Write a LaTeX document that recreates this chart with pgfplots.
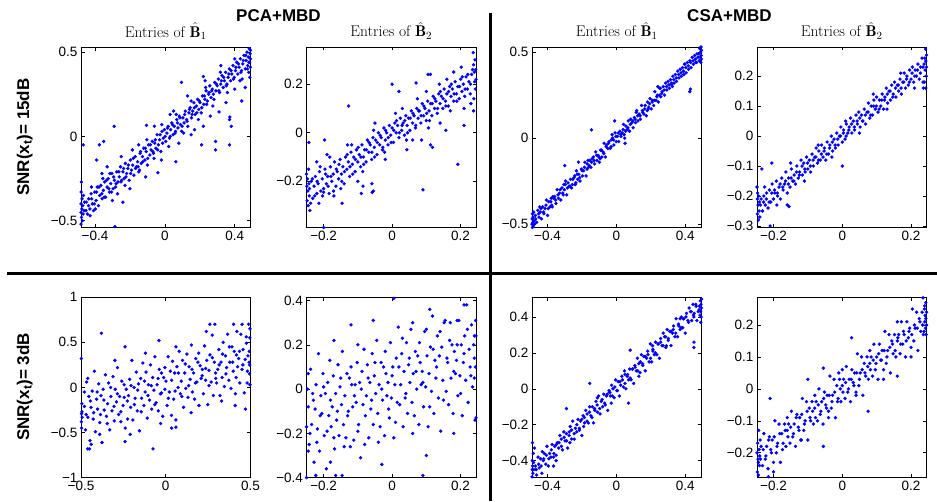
\documentclass[border=0pt]{standalone}
\usepackage{fontspec}
\newfontfamily\hv{Liberation Sans}
\usepackage{pgfplots}
\pgfplotsset{compat=1.18}
\pgfplotsset{
  panel/.style={
    scale only axis, width=169.5pt, height=180.5pt, anchor=south west,
    clip=false, tick align=inside, major tick length=3.5pt,
    axis line style={line width=0.9pt},
    every tick/.style={black, line width=0.6pt},
    tick label style={font=\hv\fontsize{13.5}{15}\selectfont},
    title style={font=\fontsize{15.5}{17}\selectfont, at={(0.5,1)}, anchor=base, yshift=4pt},
  },
  dots/.style={only marks, mark=*, mark size=1.5pt, blue},
}
\begin{document}
\begin{tikzpicture}
\useasboundingbox (0pt,0pt) rectangle (937pt,501pt);

% ---------- row 1: SNR 15dB ----------
\begin{axis}[panel, at={(81pt,273.5pt)}, xmin=-0.48, xmax=0.49, ymin=-0.54, ymax=0.53,
  xtick={-0.4,0,0.4}, xticklabels={−0.4,0,0.4}, ytick={-0.5,0,0.5}, yticklabels={−0.5,0,0.5},
  title={Entries of $\hat{\mathbf{B}}_1$}]
\addplot[dots] coordinates {
(-0.480,-0.52)(-0.480,-0.45)(-0.480,-0.40)(-0.479,-0.33)(-0.478,-0.27)(-0.477,-0.48)(-0.475,-0.43)(-0.474,-0.37)
(-0.472,-0.50)(-0.470,-0.41)(-0.468,-0.46)(-0.466,-0.35)(-0.463,-0.44)(-0.460,-0.39)(-0.467,-0.05)
(-0.450,-0.39)(-0.443,-0.46)(-0.436,-0.37)(-0.429,-0.43)(-0.422,-0.34)(-0.415,-0.40)(-0.408,-0.44)(-0.401,-0.33)
(-0.394,-0.38)(-0.387,-0.30)(-0.380,-0.41)(-0.373,-0.35)(-0.366,-0.29)(-0.359,-0.37)(-0.352,-0.32)(-0.345,-0.27)
(-0.338,-0.36)(-0.331,-0.30)(-0.324,-0.25)(-0.317,-0.33)(-0.310,-0.28)(-0.303,-0.22)(-0.296,-0.31)(-0.289,-0.26)
(-0.282,-0.30)(-0.275,-0.21)(-0.268,-0.27)(-0.261,-0.24)(-0.254,-0.18)(-0.247,-0.26)(-0.240,-0.21)(-0.233,-0.25)
(-0.226,-0.16)(-0.219,-0.22)(-0.212,-0.19)(-0.205,-0.26)(-0.198,-0.14)(-0.191,-0.20)(-0.184,-0.17)(-0.177,-0.23)
(-0.170,-0.12)(-0.163,-0.18)(-0.156,-0.15)(-0.149,-0.21)(-0.142,-0.10)(-0.135,-0.16)(-0.128,-0.12)(-0.121,-0.07)
(-0.114,-0.14)(-0.107,-0.09)(-0.100,-0.17)(-0.093,-0.05)(-0.086,-0.11)(-0.079,-0.08)(-0.072,-0.03)(-0.065,-0.10)
(-0.058,-0.04)(-0.051,-0.07)(-0.044,0.01)(-0.037,-0.05)(-0.030,-0.02)(-0.023,-0.09)(-0.016,0.03)(-0.009,-0.01)
(-0.002,0.04)(0.005,-0.03)(0.012,0.02)(0.019,0.06)(0.026,-0.01)(0.033,0.04)(0.040,0.08)(0.047,0.01)
(0.054,0.06)(0.061,0.03)(0.068,0.10)(0.075,0.05)(0.082,0.12)(0.089,0.07)(0.096,0.03)(0.103,0.11)
(0.110,0.08)(0.117,0.15)(0.124,0.10)(0.131,0.06)(0.138,0.14)(0.145,0.17)(0.152,0.11)(0.159,0.15)
(0.166,0.20)(0.173,0.13)(0.180,0.18)(0.187,0.22)(0.194,0.16)(0.201,0.20)(0.208,0.14)(0.215,0.24)
(0.222,0.19)(0.229,0.22)(0.236,0.27)(0.243,0.21)(0.250,0.25)(0.257,0.30)(0.264,0.23)(0.271,0.28)
(0.278,0.25)(0.285,0.32)(0.292,0.27)(0.299,0.30)(0.306,0.34)(0.313,0.26)(0.320,0.31)(0.327,0.36)
(0.334,0.29)(0.341,0.33)(0.348,0.38)(0.355,0.31)(0.362,0.35)(0.369,0.40)(0.376,0.33)(0.383,0.37)
(0.390,0.42)(0.397,0.35)(0.404,0.39)(0.411,0.44)(0.418,0.37)(0.425,0.41)(0.432,0.46)(0.439,0.39)
(0.446,0.43)(0.453,0.48)(0.460,0.40)
(0.465,0.45)(0.470,0.50)(0.474,0.42)(0.478,0.47)(0.480,0.38)(0.483,0.52)(0.485,0.44)(0.486,0.35)
(0.488,0.49)(0.489,0.41)(0.490,0.46)(0.490,0.51)
(0.095,0.32)(0.220,0.355)(0.370,0.10)(0.372,0.115)(0.380,0.06)(0.290,-0.03)(0.290,-0.08)(0.210,-0.05)
(0.370,-0.05)(0.460,0.29)(0.440,0.21)(-0.290,0.06)(-0.375,-0.05)(-0.350,-0.03)(-0.390,-0.14)(-0.240,-0.39)
(-0.286,-0.535)(-0.105,0.065)(-0.040,-0.215)(0.063,-0.15)(0.220,0.06)(0.310,0.145)
(-0.42,-0.30)(-0.36,-0.22)(-0.30,-0.38)(-0.25,-0.12)(-0.20,-0.31)(-0.15,-0.05)(-0.11,-0.24)(-0.06,0.06)
(-0.02,-0.14)(0.03,0.13)(0.08,-0.04)(0.13,0.24)(0.17,0.04)(0.23,0.33)(0.26,0.12)(0.32,0.42)
(0.35,0.20)(0.40,0.28)(0.43,0.33)(-0.33,-0.18)(0.05,0.15)(0.15,0.01)
};
\addplot[dots] coordinates {
(-0.452,-0.44)(-0.437,-0.41)(-0.419,-0.37)(-0.404,-0.40)(-0.391,-0.33)(-0.377,-0.30)(-0.361,-0.34)(-0.347,-0.36)
(-0.333,-0.26)(-0.321,-0.31)(-0.306,-0.33)(-0.293,-0.24)(-0.279,-0.28)(-0.263,-0.21)(-0.251,-0.27)(-0.236,-0.19)
(-0.223,-0.24)(-0.209,-0.17)(-0.196,-0.22)(-0.181,-0.13)(-0.168,-0.19)(-0.153,-0.18)(-0.139,-0.09)(-0.126,-0.15)
(-0.112,-0.07)(-0.098,-0.13)(-0.083,-0.05)(-0.069,-0.09)(-0.055,-0.02)(-0.041,-0.08)(-0.027,0.01)(-0.013,-0.04)
(0.002,0.00)(0.016,0.05)(0.031,0.00)(0.044,0.07)(0.058,0.02)(0.072,0.08)(0.086,0.11)(0.099,0.06)
(0.113,0.13)(0.127,0.09)(0.141,0.16)(0.156,0.13)(0.169,0.17)(0.183,0.14)(0.197,0.21)(0.211,0.17)
(0.226,0.24)(0.239,0.19)(0.253,0.26)(0.268,0.27)(0.281,0.22)(0.295,0.31)(0.309,0.27)(0.323,0.33)
(0.337,0.35)(0.351,0.30)(0.366,0.37)(0.379,0.39)(0.393,0.34)(0.407,0.41)(0.421,0.43)(0.435,0.38)
(0.449,0.45)(0.463,0.48)(0.472,0.40)(0.481,0.44)(-0.428,-0.47)(-0.398,-0.43)(-0.355,-0.25)(-0.315,-0.22)
(-0.271,-0.34)(-0.228,-0.29)(-0.186,-0.08)(-0.145,-0.20)(-0.103,-0.02)(-0.062,-0.13)(-0.018,0.07)(0.022,-0.06)
(0.065,0.13)(0.107,0.02)(0.150,0.21)(0.192,0.10)(0.233,0.29)(0.275,0.18)(0.318,0.38)(0.358,0.26)
(0.400,0.46)(0.442,0.34)
};
\end{axis}

\begin{axis}[panel, at={(306.5pt,273.5pt)}, xmin=-0.25, xmax=0.245, ymin=-0.39, ymax=0.353,
  xtick={-0.2,0,0.2}, xticklabels={−0.2,0,0.2}, ytick={-0.2,0,0.2}, yticklabels={−0.2,0,0.2},
  title={Entries of $\hat{\mathbf{B}}_2$}]
\addplot[dots] coordinates {
(-0.236,-0.20)(-0.232,-0.27)(-0.228,-0.22)(-0.224,-0.18)(-0.220,-0.25)(-0.216,-0.21)(-0.212,-0.16)(-0.208,-0.24)
(-0.204,-0.19)(-0.200,-0.23)(-0.196,-0.15)(-0.192,-0.21)(-0.188,-0.18)(-0.184,-0.25)(-0.180,-0.14)(-0.176,-0.20)
(-0.172,-0.17)(-0.168,-0.12)(-0.164,-0.22)(-0.160,-0.16)(-0.156,-0.19)(-0.152,-0.11)(-0.148,-0.17)(-0.144,-0.14)
(-0.140,-0.21)(-0.136,-0.10)(-0.132,-0.15)(-0.128,-0.12)(-0.124,-0.18)(-0.120,-0.08)(-0.116,-0.13)(-0.112,-0.10)
(-0.108,-0.16)(-0.104,-0.07)(-0.100,-0.12)(-0.096,-0.09)(-0.092,-0.14)(-0.088,-0.05)(-0.084,-0.10)(-0.080,-0.07)
(-0.076,-0.12)(-0.072,-0.03)(-0.068,-0.08)(-0.064,-0.05)(-0.060,-0.11)(-0.056,-0.02)(-0.052,-0.06)(-0.048,-0.03)
(-0.044,-0.09)(-0.040,0.00)(-0.036,-0.05)(-0.032,-0.02)(-0.028,-0.07)(-0.024,0.02)(-0.020,-0.03)(-0.016,0.00)
(-0.012,-0.05)(-0.008,0.03)(-0.004,-0.01)(0.000,0.02)(0.004,-0.04)(0.008,0.04)(0.012,0.00)(0.016,0.03)
(0.020,-0.02)(0.024,0.06)(0.028,0.01)(0.032,0.04)(0.036,-0.01)(0.040,0.07)(0.044,0.03)(0.048,0.06)
(0.052,0.01)(0.056,0.09)(0.060,0.04)(0.064,0.07)(0.068,0.02)(0.072,0.10)(0.076,0.06)(0.080,0.09)
(0.084,0.04)(0.088,0.12)(0.092,0.07)(0.096,0.10)(0.100,0.05)(0.104,0.13)(0.108,0.09)(0.112,0.12)
(0.116,0.07)(0.120,0.15)(0.124,0.10)(0.128,0.13)(0.132,0.08)(0.136,0.16)(0.140,0.12)(0.144,0.15)
(0.148,0.10)(0.152,0.18)(0.156,0.13)(0.160,0.16)(0.164,0.11)(0.168,0.19)(0.172,0.15)(0.176,0.18)
(0.180,0.13)(0.184,0.21)(0.188,0.16)(0.192,0.19)(0.196,0.14)(0.200,0.22)(0.204,0.17)(0.208,0.20)
(0.212,0.15)(0.216,0.23)(0.220,0.18)(0.224,0.21)(0.228,0.16)(0.232,0.24)
(-0.250,-0.17)(-0.249,-0.22)(-0.248,-0.28)(-0.247,-0.19)(-0.246,-0.24)(-0.245,-0.30)(-0.244,-0.15)(-0.243,-0.21)
(-0.242,-0.26)(-0.240,-0.32)
(0.245,0.22)(0.244,0.26)(0.243,0.18)(0.242,0.30)(0.241,0.21)(0.240,0.25)(0.239,0.14)(0.238,0.28)(0.238,0.09)(0.237,0.33)
(-0.127,0.11)(0.000,0.20)(0.090,-0.235)(0.192,-0.13)(-0.200,-0.39)(-0.243,-0.04)(-0.197,-0.03)(-0.085,-0.22)
(-0.059,-0.21)(-0.058,-0.245)(-0.146,-0.29)(0.105,0.24)(0.112,0.24)(0.070,0.205)(0.020,0.17)(0.112,-0.05)
(0.118,-0.06)(0.210,0.03)(0.157,0.01)(0.086,-0.03)(0.043,-0.07)(-0.200,-0.245)(-0.090,-0.25)(-0.055,-0.24)
(-0.22,-0.12)(-0.17,-0.26)(-0.13,-0.05)(-0.10,-0.20)(-0.05,0.04)(-0.02,-0.11)(0.03,0.10)(0.06,-0.03)
(0.10,0.17)(0.14,0.04)(0.18,0.25)(0.21,0.10)(-0.19,-0.09)(0.16,0.22)
};
\addplot[dots] coordinates {
(-0.241,-0.23)(-0.233,-0.19)(-0.226,-0.26)(-0.219,-0.20)(-0.210,-0.14)(-0.203,-0.26)(-0.194,-0.17)(-0.187,-0.22)
(-0.179,-0.18)(-0.171,-0.24)(-0.163,-0.15)(-0.155,-0.13)(-0.147,-0.20)(-0.139,-0.16)(-0.131,-0.09)(-0.123,-0.14)
(-0.115,-0.17)(-0.107,-0.11)(-0.099,-0.06)(-0.091,-0.10)(-0.083,-0.13)(-0.075,-0.07)(-0.067,-0.04)(-0.059,-0.08)
(-0.051,-0.10)(-0.043,-0.04)(-0.035,-0.01)(-0.027,-0.06)(-0.019,0.01)(-0.011,-0.02)(-0.003,-0.04)(0.005,0.01)
(0.013,0.05)(0.021,0.00)(0.029,0.03)(0.037,0.05)(0.045,0.00)(0.053,0.06)(0.061,0.08)(0.069,0.03)
(0.077,0.09)(0.085,0.07)(0.093,0.11)(0.101,0.08)(0.109,0.05)(0.117,0.12)(0.125,0.14)(0.133,0.10)
(0.141,0.17)(0.149,0.14)(0.157,0.11)(0.165,0.17)(0.173,0.20)(0.181,0.16)(0.189,0.13)(0.197,0.19)
(0.205,0.23)(0.213,0.18)(0.221,0.24)(0.229,0.20)(0.235,0.26)(-0.238,-0.29)(-0.214,-0.29)(-0.182,-0.10)
(-0.150,-0.23)(-0.118,-0.05)(-0.086,-0.16)(-0.054,0.01)(-0.022,-0.08)(0.010,0.08)(0.042,-0.03)(0.074,0.14)
(0.106,0.02)(0.138,0.20)(0.170,0.09)(0.202,0.27)(0.230,0.12)
};
\end{axis}

\begin{axis}[panel, at={(532pt,273.5pt)}, xmin=-0.49, xmax=0.494, ymin=-0.52, ymax=0.53,
  xtick={-0.4,0,0.4}, xticklabels={−0.4,0,0.4}, ytick={-0.5,0,0.5}, yticklabels={−0.5,0,0.5},
  title={Entries of $\hat{\mathbf{B}}_1$}]
\addplot[dots] coordinates {
(-0.470,-0.45)(-0.463,-0.49)(-0.456,-0.42)(-0.449,-0.46)(-0.442,-0.43)(-0.435,-0.47)(-0.428,-0.40)(-0.421,-0.44)
(-0.414,-0.41)(-0.407,-0.36)(-0.400,-0.45)(-0.393,-0.37)(-0.386,-0.40)(-0.379,-0.35)(-0.372,-0.40)(-0.365,-0.35)
(-0.358,-0.34)(-0.351,-0.38)(-0.344,-0.30)(-0.337,-0.35)(-0.330,-0.32)(-0.323,-0.36)(-0.316,-0.29)(-0.309,-0.33)
(-0.302,-0.30)(-0.295,-0.25)(-0.288,-0.33)(-0.281,-0.26)(-0.274,-0.28)(-0.267,-0.24)(-0.260,-0.29)(-0.253,-0.24)
(-0.246,-0.23)(-0.239,-0.27)(-0.232,-0.19)(-0.225,-0.24)(-0.218,-0.21)(-0.211,-0.25)(-0.204,-0.18)(-0.197,-0.22)
(-0.190,-0.19)(-0.183,-0.14)(-0.176,-0.22)(-0.169,-0.15)(-0.162,-0.17)(-0.155,-0.13)(-0.148,-0.17)(-0.141,-0.12)
(-0.134,-0.11)(-0.127,-0.15)(-0.120,-0.08)(-0.113,-0.13)(-0.106,-0.10)(-0.099,-0.14)(-0.092,-0.07)(-0.085,-0.11)
(-0.078,-0.08)(-0.071,-0.03)(-0.064,-0.11)(-0.057,-0.04)(-0.050,-0.06)(-0.043,-0.02)(-0.036,-0.06)(-0.029,-0.01)
(-0.022,0.00)(-0.015,-0.04)(-0.008,0.03)(-0.001,-0.02)(0.006,0.01)(0.013,-0.02)(0.020,0.04)(0.027,0.01)
(0.034,0.03)(0.041,0.08)(0.048,0.00)(0.055,0.07)(0.062,0.05)(0.069,0.10)(0.076,0.04)(0.083,0.11)
(0.090,0.09)(0.097,0.06)(0.104,0.12)(0.111,0.09)(0.118,0.16)(0.125,0.10)(0.132,0.14)(0.139,0.11)
(0.146,0.19)(0.153,0.15)(0.160,0.14)(0.167,0.19)(0.174,0.13)(0.181,0.21)(0.188,0.18)(0.195,0.23)
(0.202,0.17)(0.209,0.22)(0.216,0.19)(0.223,0.27)(0.230,0.22)(0.237,0.25)(0.244,0.21)(0.251,0.29)
(0.258,0.24)(0.265,0.27)(0.272,0.30)(0.279,0.25)(0.286,0.32)(0.293,0.28)(0.300,0.33)(0.307,0.29)
(0.314,0.34)(0.321,0.31)(0.328,0.36)(0.335,0.32)(0.342,0.37)(0.349,0.33)(0.356,0.39)(0.363,0.35)
(0.370,0.40)(0.377,0.36)(0.384,0.41)(0.391,0.37)(0.398,0.43)(0.405,0.38)(0.412,0.44)(0.419,0.40)
(0.426,0.45)(0.433,0.41)(0.440,0.47)(0.447,0.43)(0.454,0.48)(0.461,0.44)(0.468,0.49)
(-0.490,-0.50)(-0.489,-0.47)(-0.488,-0.52)(-0.487,-0.44)(-0.486,-0.49)(-0.484,-0.46)(-0.482,-0.51)(-0.480,-0.43)
(-0.477,-0.48)(-0.475,-0.50)
(0.494,0.51)(0.493,0.46)(0.492,0.48)(0.491,0.53)(0.490,0.44)(0.488,0.50)(0.486,0.47)(0.484,0.52)(0.481,0.45)(0.478,0.49)
(0.426,0.27)(0.430,0.285)(-0.145,0.048)(-0.010,0.10)(-0.300,-0.16)(0.240,0.30)(-0.220,-0.14)(0.050,-0.03)
};
\addplot[dots] coordinates {
(-0.468,-0.47)(-0.452,-0.44)(-0.438,-0.41)(-0.423,-0.43)(-0.409,-0.39)(-0.396,-0.41)(-0.381,-0.37)(-0.368,-0.34)
(-0.353,-0.36)(-0.339,-0.33)(-0.326,-0.30)(-0.311,-0.32)(-0.297,-0.27)(-0.284,-0.29)(-0.269,-0.28)(-0.255,-0.27)
(-0.242,-0.22)(-0.228,-0.21)(-0.213,-0.23)(-0.199,-0.19)(-0.186,-0.17)(-0.171,-0.18)(-0.157,-0.16)(-0.144,-0.14)
(-0.129,-0.13)(-0.115,-0.10)(-0.102,-0.11)(-0.087,-0.07)(-0.073,-0.09)(-0.060,-0.05)(-0.045,-0.03)(-0.031,-0.05)
(-0.017,-0.01)(-0.003,0.01)(0.011,0.03)(0.025,0.02)(0.039,0.05)(0.053,0.04)(0.067,0.06)(0.081,0.08)
(0.095,0.10)(0.109,0.11)(0.123,0.13)(0.137,0.13)(0.151,0.16)(0.165,0.17)(0.179,0.16)(0.193,0.20)
(0.207,0.21)(0.221,0.22)(0.235,0.24)(0.249,0.25)(0.263,0.26)(0.277,0.28)(0.291,0.30)(0.305,0.31)
(0.319,0.32)(0.333,0.34)(0.347,0.35)(0.361,0.37)(0.375,0.38)(0.389,0.39)(0.403,0.41)(0.417,0.42)
(0.431,0.44)(0.445,0.45)(0.459,0.46)(0.473,0.47)(-0.445,-0.40)(-0.375,-0.39)(-0.305,-0.27)(-0.235,-0.26)
(-0.165,-0.13)(-0.095,-0.12)(-0.025,0.02)(0.045,0.02)(0.115,0.15)(0.185,0.17)(0.255,0.29)(0.325,0.30)
(0.395,0.43)(0.465,0.44)
};
\end{axis}

\begin{axis}[panel, at={(757pt,273.5pt)}, xmin=-0.248, xmax=0.245, ymin=-0.305, ymax=0.297,
  xtick={-0.2,0,0.2}, xticklabels={−0.2,0,0.2},
  ytick={-0.3,-0.2,-0.1,0,0.1,0.2}, yticklabels={−0.3,−0.2,−0.1,0,0.1,0.2},
  title={Entries of $\hat{\mathbf{B}}_2$}]
\addplot[dots] coordinates {
(-0.236,-0.21)(-0.232,-0.25)(-0.228,-0.20)(-0.224,-0.23)(-0.220,-0.19)(-0.216,-0.24)(-0.212,-0.18)(-0.208,-0.22)
(-0.204,-0.16)(-0.200,-0.21)(-0.196,-0.19)(-0.192,-0.15)(-0.188,-0.20)(-0.184,-0.17)(-0.180,-0.21)(-0.176,-0.14)
(-0.172,-0.18)(-0.168,-0.16)(-0.164,-0.12)(-0.160,-0.19)(-0.156,-0.14)(-0.152,-0.17)(-0.148,-0.11)(-0.144,-0.15)
(-0.140,-0.13)(-0.136,-0.16)(-0.132,-0.10)(-0.128,-0.14)(-0.124,-0.12)(-0.120,-0.08)(-0.116,-0.13)(-0.112,-0.09)
(-0.108,-0.12)(-0.104,-0.07)(-0.100,-0.11)(-0.096,-0.08)(-0.092,-0.12)(-0.088,-0.06)(-0.084,-0.10)(-0.080,-0.07)
(-0.076,-0.04)(-0.072,-0.09)(-0.068,-0.05)(-0.064,-0.08)(-0.060,-0.03)(-0.056,-0.07)(-0.052,-0.04)(-0.048,-0.08)
(-0.044,-0.02)(-0.040,-0.06)(-0.036,-0.03)(-0.032,0.00)(-0.028,-0.05)(-0.024,-0.01)(-0.020,-0.04)(-0.016,0.01)
(-0.012,-0.03)(-0.008,0.00)(-0.004,0.03)(0.000,-0.02)(0.004,0.02)(0.008,-0.01)(0.012,0.04)(0.016,0.01)
(0.020,0.03)(0.024,0.06)(0.028,0.01)(0.032,0.05)(0.036,0.02)(0.040,0.07)(0.044,0.04)(0.048,0.08)
(0.052,0.03)(0.056,0.07)(0.060,0.05)(0.064,0.09)(0.068,0.04)(0.072,0.08)(0.076,0.11)(0.080,0.06)
(0.084,0.10)(0.088,0.07)(0.092,0.12)(0.096,0.09)(0.100,0.13)(0.104,0.08)(0.108,0.12)(0.112,0.10)
(0.116,0.14)(0.120,0.09)(0.124,0.13)(0.128,0.16)(0.132,0.11)(0.136,0.15)(0.140,0.12)(0.144,0.17)
(0.148,0.14)(0.152,0.18)(0.156,0.13)(0.160,0.17)(0.164,0.15)(0.168,0.19)(0.172,0.14)(0.176,0.18)
(0.180,0.21)(0.184,0.16)(0.188,0.20)(0.192,0.17)(0.196,0.22)(0.200,0.19)(0.204,0.23)(0.208,0.18)
(0.212,0.22)(0.216,0.20)(0.220,0.24)(0.224,0.19)(0.228,0.23)(0.232,0.26)
(-0.248,-0.17)(-0.247,-0.21)(-0.247,-0.26)(-0.246,-0.19)(-0.245,-0.23)(-0.244,-0.28)(-0.243,-0.20)(-0.242,-0.25)
(-0.241,-0.22)(-0.240,-0.27)
(0.245,0.23)(0.245,0.27)(0.244,0.20)(0.243,0.25)(0.243,0.16)(0.242,0.29)(0.241,0.22)(0.240,0.26)(0.239,0.18)(0.238,0.24)
(-0.234,-0.11)(-0.205,-0.09)(-0.160,-0.23)(-0.155,-0.235)(0.000,-0.10)(-0.210,-0.30)(0.235,0.18)(0.236,0.16)
};
\addplot[dots] coordinates {
(-0.238,-0.23)(-0.229,-0.22)(-0.221,-0.21)(-0.213,-0.22)(-0.205,-0.19)(-0.197,-0.18)(-0.189,-0.19)(-0.181,-0.16)
(-0.173,-0.17)(-0.165,-0.15)(-0.157,-0.16)(-0.149,-0.14)(-0.141,-0.15)(-0.133,-0.12)(-0.125,-0.13)(-0.117,-0.10)
(-0.109,-0.11)(-0.101,-0.09)(-0.093,-0.10)(-0.085,-0.08)(-0.077,-0.07)(-0.069,-0.08)(-0.061,-0.06)(-0.053,-0.05)
(-0.045,-0.06)(-0.037,-0.04)(-0.029,-0.02)(-0.021,-0.03)(-0.013,-0.01)(-0.005,0.00)(0.003,0.01)(0.011,0.00)
(0.019,0.02)(0.027,0.04)(0.035,0.03)(0.043,0.05)(0.051,0.06)(0.059,0.05)(0.067,0.07)(0.075,0.08)
(0.083,0.07)(0.091,0.10)(0.099,0.10)(0.107,0.09)(0.115,0.12)(0.123,0.12)(0.131,0.14)(0.139,0.15)
(0.147,0.13)(0.155,0.16)(0.163,0.17)(0.171,0.16)(0.179,0.18)(0.187,0.19)(0.195,0.18)(0.203,0.21)
(0.211,0.20)(0.219,0.22)(0.227,0.21)(0.235,0.23)(-0.226,-0.17)(-0.190,-0.23)(-0.150,-0.09)(-0.110,-0.15)
(-0.070,-0.03)(-0.030,-0.07)(0.010,0.05)(0.050,0.01)(0.090,0.14)(0.130,0.09)(0.170,0.21)(0.210,0.16)
};
\end{axis}

% ---------- row 2: SNR 3dB ----------
\begin{axis}[panel, at={(81pt,23.3pt)}, xmin=-0.5, xmax=0.5, ymin=-1, ymax=1,
  xtick={-0.5,0,0.5}, xticklabels={−0.5,0,0.5},
  ytick={-1,-0.5,0,0.5,1}, yticklabels={−1,−0.5,0,0.5,1}]
\addplot[dots] coordinates {
(-0.480,-0.21)(-0.473,-0.47)(-0.467,0.06)(-0.460,-0.33)(-0.454,-0.10)(-0.447,-0.59)(-0.441,-0.22)(-0.434,-0.04)
(-0.428,-0.35)(-0.421,0.18)(-0.415,-0.49)(-0.408,-0.13)(-0.402,-0.24)(-0.395,0.04)(-0.389,-0.39)(-0.382,-0.09)
(-0.376,-0.61)(-0.369,-0.02)(-0.363,-0.25)(-0.356,0.14)(-0.350,-0.32)(-0.343,-0.18)(-0.337,0.05)(-0.330,-0.47)
(-0.324,-0.10)(-0.317,-0.26)(-0.311,0.12)(-0.304,-0.37)(-0.298,-0.02)(-0.291,-0.16)(-0.285,0.22)(-0.278,-0.30)
(-0.272,-0.10)(-0.265,-0.38)(-0.259,0.07)(-0.252,-0.20)(-0.246,0.03)(-0.239,-0.45)(-0.233,-0.02)(-0.226,-0.15)
(-0.220,-0.09)(-0.213,0.09)(-0.207,-0.22)(-0.200,0.30)(-0.194,-0.36)(-0.187,0.00)(-0.181,-0.12)(-0.174,0.17)
(-0.168,-0.26)(-0.161,0.04)(-0.155,-0.48)(-0.148,0.10)(-0.142,-0.12)(-0.135,0.27)(-0.129,-0.20)(-0.122,-0.05)
(-0.116,0.17)(-0.109,-0.34)(-0.103,0.03)(-0.096,-0.14)(-0.090,0.25)(-0.083,-0.24)(-0.077,0.11)(-0.070,-0.03)
(-0.064,0.34)(-0.057,-0.17)(-0.051,0.03)(-0.044,-0.26)(-0.038,0.20)(-0.031,-0.07)(-0.025,0.16)(-0.018,-0.32)
(-0.012,0.11)(-0.005,-0.02)(0.001,0.07)(0.008,-0.20)(0.014,0.34)(0.021,-0.05)(0.027,0.18)(0.034,-0.31)
(0.040,0.29)(0.047,-0.13)(0.053,0.16)(0.060,-0.36)(0.066,0.23)(0.073,0.00)(0.079,0.40)(0.086,-0.07)
(0.092,0.07)(0.099,0.30)(0.105,-0.22)(0.112,0.16)(0.118,-0.01)(0.125,0.37)(0.131,-0.11)(0.138,0.23)
(0.144,0.09)(0.151,0.47)(0.157,-0.05)(0.164,0.16)(0.170,-0.13)(0.177,0.32)(0.183,0.06)(0.190,0.28)
(0.196,-0.20)(0.203,0.24)(0.209,0.10)(0.216,0.20)(0.222,-0.07)(0.229,0.46)(0.235,0.08)(0.242,0.30)
(0.248,-0.19)(0.255,0.19)(0.261,0.36)(0.268,0.06)(0.274,0.58)(0.281,-0.09)(0.287,0.28)(0.294,0.16)
(0.300,0.05)(0.307,0.20)(0.313,0.42)(0.320,-0.09)(0.326,0.28)(0.333,0.11)(0.339,0.50)(0.346,0.01)
(0.352,0.35)(0.359,0.22)(0.365,0.59)(0.372,0.08)(0.378,0.28)(0.385,-0.01)(0.391,0.45)(0.398,0.18)
(0.404,0.40)(0.411,-0.07)(0.417,0.36)(0.424,0.23)(0.430,0.32)(0.437,0.05)(0.443,0.59)(0.450,0.20)
(0.456,0.42)(0.463,-0.06)(0.469,0.31)(0.476,0.49)(0.482,0.18)(0.489,0.70)
(-0.498,-0.38)(-0.497,-0.29)(-0.496,-0.45)(-0.498,0.32)(-0.495,-0.18)(-0.494,-0.27)(-0.493,-0.33)
(0.497,0.65)(0.496,0.55)(0.495,0.25)(0.494,0.15)(0.497,0.03)(0.493,0.40)(0.492,0.28)
(0.260,0.70)(0.290,0.70)(0.400,0.70)(0.450,0.70)(-0.380,0.60)(-0.240,0.45)(-0.040,0.52)(-0.075,-0.68)
(-0.460,-0.68)(-0.450,-0.68)(-0.440,-0.63)(-0.240,-0.60)(0.035,-0.45)(0.060,-0.44)(0.470,-0.24)(0.410,-0.20)
};
\addplot[dots] coordinates {
(-0.470,-0.30)(-0.445,-0.15)(-0.425,-0.28)(-0.405,-0.05)(-0.385,-0.30)(-0.365,-0.14)(-0.345,-0.40)(-0.325,0.00)
(-0.305,-0.21)(-0.285,-0.07)(-0.265,-0.27)(-0.245,-0.11)(-0.225,-0.35)(-0.205,0.02)(-0.185,-0.19)(-0.165,-0.03)
(-0.145,-0.27)(-0.125,0.07)(-0.105,-0.09)(-0.085,0.02)(-0.065,-0.19)(-0.045,0.10)(-0.025,-0.06)(-0.005,0.22)
(0.015,-0.12)(0.035,0.08)(0.055,-0.04)(0.075,0.16)(0.095,-0.10)(0.115,0.26)(0.135,0.02)(0.155,0.20)
(0.175,0.05)(0.195,0.38)(0.215,0.13)(0.235,0.21)(0.255,0.02)(0.275,0.33)(0.295,0.10)(0.315,0.25)
(0.335,0.37)(0.355,0.15)(0.375,0.45)(0.395,0.28)(0.415,0.11)(0.435,0.40)(0.455,0.25)(0.475,0.56)
(0.485,0.35)(-0.460,0.10)(-0.390,-0.52)(-0.300,0.30)(-0.210,-0.52)(-0.120,0.38)(-0.030,-0.40)(0.060,0.45)
(0.150,-0.28)(0.240,0.62)(0.330,-0.15)(0.420,0.62)(-0.480,-0.05)(0.480,0.05)
};
\end{axis}

\begin{axis}[panel, at={(306.5pt,23.3pt)}, xmin=-0.25, xmax=0.245, ymin=-0.40, ymax=0.415,
  xtick={-0.2,0,0.2}, xticklabels={−0.2,0,0.2},
  ytick={-0.4,-0.2,0,0.2,0.4}, yticklabels={−0.4,−0.2,0,0.2,0.4}]
\addplot[dots] coordinates {
(-0.245,-0.08)(-0.242,-0.25)(-0.238,0.09)(-0.235,-0.16)(-0.232,-0.02)(-0.228,-0.33)(-0.225,-0.09)(-0.222,0.02)
(-0.218,-0.18)(-0.215,0.16)(-0.212,-0.28)(-0.208,-0.03)(-0.205,-0.11)(-0.202,0.07)(-0.198,-0.21)(-0.195,-0.02)
(-0.192,-0.36)(-0.188,0.03)(-0.185,-0.12)(-0.182,0.13)(-0.178,-0.17)(-0.175,-0.08)(-0.172,0.06)(-0.168,-0.27)
(-0.165,-0.02)(-0.162,-0.14)(-0.158,0.11)(-0.155,-0.21)(-0.152,0.01)(-0.148,-0.07)(-0.145,0.17)(-0.142,-0.16)
(-0.138,-0.03)(-0.135,-0.22)(-0.132,0.07)(-0.128,-0.10)(-0.125,0.05)(-0.122,-0.26)(-0.118,0.02)(-0.115,-0.08)
(-0.112,-0.23)(-0.108,0.02)(-0.105,-0.06)(-0.102,0.12)(-0.098,-0.16)(-0.095,0.03)(-0.092,-0.31)(-0.088,0.08)
(-0.085,-0.07)(-0.082,0.18)(-0.078,-0.12)(-0.075,-0.03)(-0.072,0.11)(-0.068,-0.22)(-0.065,0.03)(-0.062,-0.09)
(-0.058,0.16)(-0.055,-0.16)(-0.052,0.06)(-0.048,-0.02)(-0.045,0.22)(-0.042,-0.11)(-0.038,0.02)(-0.035,-0.17)
(-0.032,0.12)(-0.028,-0.05)(-0.025,0.10)(-0.022,-0.21)(-0.018,0.07)(-0.015,-0.03)(-0.012,0.03)(-0.008,-0.13)
(-0.005,0.21)(-0.002,-0.04)(0.002,0.10)(0.005,-0.22)(0.008,0.02)(0.012,0.14)(0.015,-0.06)(0.018,0.28)
(0.022,-0.07)(0.025,0.02)(0.028,0.16)(0.032,-0.17)(0.035,0.08)(0.038,-0.04)(0.042,0.21)(0.045,-0.11)
(0.048,0.11)(0.052,0.03)(0.055,0.27)(0.058,-0.06)(0.062,0.07)(0.065,-0.12)(0.068,0.17)(0.072,0.00)
(0.075,0.15)(0.078,-0.16)(0.082,0.12)(0.085,0.02)(0.088,0.08)(0.092,-0.08)(0.095,0.26)(0.098,0.01)
(0.102,0.15)(0.105,-0.17)(0.108,0.07)(0.112,0.19)(0.115,-0.01)(0.118,0.33)(0.122,-0.11)(0.125,0.13)
(0.128,0.05)(0.132,0.24)(0.135,-0.04)(0.138,0.15)(0.142,-0.19)(0.145,0.19)(0.148,0.04)(0.152,0.30)
(0.155,0.31)(0.158,-0.01)(0.162,0.12)(0.165,-0.07)(0.168,0.22)(0.172,0.05)(0.175,0.20)(0.178,-0.11)
(0.182,0.17)(0.185,0.07)(0.188,0.13)(0.192,-0.03)(0.195,0.31)(0.198,0.06)(0.202,0.20)(0.205,-0.12)
(0.208,0.12)(0.212,0.24)(0.215,0.04)(0.218,0.38)(0.222,-0.06)(0.225,0.18)(0.228,0.10)(0.232,0.29)
(0.235,0.01)(0.238,0.20)(0.242,-0.14)(0.245,0.24)
(-0.223,-0.39)(-0.165,-0.39)(-0.146,-0.39)(-0.250,-0.40)(0.090,-0.39)(0.005,0.41)(0.210,0.38)(0.110,0.36)
(-0.055,0.31)(-0.120,0.29)(-0.170,0.22)(0.190,0.31)(0.100,-0.30)(-0.030,-0.34)(-0.245,0.07)(-0.250,-0.17)
(0.245,-0.13)(0.240,0.24)(0.240,0.05)
};
\addplot[dots] coordinates {
(-0.240,-0.20)(-0.230,-0.05)(-0.220,-0.24)(-0.210,-0.12)(-0.200,0.01)(-0.190,-0.19)(-0.180,-0.05)(-0.170,-0.22)
(-0.160,-0.10)(-0.150,0.05)(-0.140,-0.26)(-0.130,-0.12)(-0.120,0.10)(-0.110,-0.03)(-0.100,-0.19)(-0.090,0.00)
(-0.080,-0.25)(-0.070,0.05)(-0.060,-0.05)(-0.050,0.12)(-0.040,-0.24)(-0.030,0.00)(-0.020,0.17)(-0.010,-0.09)
(0.000,0.06)(0.010,-0.15)(0.020,0.10)(0.030,0.23)(0.040,-0.02)(0.050,0.14)(0.060,-0.20)(0.070,0.08)
(0.080,0.21)(0.090,0.03)(0.100,0.27)(0.110,-0.08)(0.120,0.18)(0.130,0.10)(0.140,0.26)(0.150,-0.05)
(0.160,0.14)(0.170,0.30)(0.180,0.08)(0.190,0.20)(0.200,-0.02)(0.210,0.16)(0.220,0.27)(0.230,0.06)
(0.240,0.14)(-0.245,-0.28)(-0.247,0.00)(0.244,0.31)(0.243,0.10)(-0.180,-0.33)(0.060,0.30)(-0.100,0.20)
(0.180,-0.20)
};
\end{axis}

\begin{axis}[panel, at={(532pt,23.3pt)}, xmin=-0.49, xmax=0.494, ymin=-0.495, ymax=0.51,
  xtick={-0.4,0,0.4}, xticklabels={−0.4,0,0.4},
  ytick={-0.4,-0.2,0,0.2,0.4}, yticklabels={−0.4,−0.2,0,0.2,0.4}]
\addplot[dots] coordinates {
(-0.470,-0.43)(-0.463,-0.48)(-0.455,-0.38)(-0.448,-0.44)(-0.440,-0.39)(-0.433,-0.47)(-0.425,-0.40)(-0.418,-0.36)
(-0.410,-0.42)(-0.403,-0.32)(-0.395,-0.43)(-0.388,-0.36)(-0.380,-0.38)(-0.373,-0.31)(-0.365,-0.38)(-0.358,-0.32)
(-0.350,-0.40)(-0.343,-0.30)(-0.335,-0.33)(-0.328,-0.26)(-0.320,-0.28)(-0.313,-0.34)(-0.305,-0.24)(-0.298,-0.29)
(-0.290,-0.25)(-0.283,-0.33)(-0.275,-0.26)(-0.268,-0.21)(-0.260,-0.28)(-0.253,-0.18)(-0.245,-0.28)(-0.238,-0.22)
(-0.230,-0.24)(-0.223,-0.17)(-0.215,-0.23)(-0.208,-0.18)(-0.200,-0.26)(-0.193,-0.15)(-0.185,-0.19)(-0.178,-0.12)
(-0.170,-0.14)(-0.163,-0.19)(-0.155,-0.10)(-0.148,-0.15)(-0.140,-0.10)(-0.133,-0.19)(-0.125,-0.12)(-0.118,-0.07)
(-0.110,-0.13)(-0.103,-0.04)(-0.095,-0.14)(-0.088,-0.07)(-0.080,-0.10)(-0.073,-0.03)(-0.065,-0.09)(-0.058,-0.04)
(-0.050,-0.12)(-0.043,-0.01)(-0.035,-0.04)(-0.028,0.02)(-0.020,0.00)(-0.013,-0.05)(-0.005,0.05)(0.002,-0.01)
(0.010,0.04)(0.017,-0.04)(0.025,0.02)(0.032,0.07)(0.040,0.01)(0.047,0.10)(0.055,0.00)(0.062,0.07)
(0.070,0.05)(0.077,0.11)(0.085,0.05)(0.092,0.11)(0.100,0.03)(0.107,0.13)(0.115,0.10)(0.122,0.17)
(0.130,0.14)(0.137,0.09)(0.145,0.19)(0.152,0.14)(0.160,0.18)(0.167,0.10)(0.175,0.17)(0.182,0.21)
(0.190,0.15)(0.197,0.25)(0.205,0.15)(0.212,0.21)(0.220,0.19)(0.227,0.26)(0.235,0.19)(0.242,0.25)
(0.250,0.17)(0.257,0.28)(0.265,0.24)(0.272,0.31)(0.280,0.29)(0.287,0.23)(0.295,0.33)(0.302,0.28)
(0.310,0.32)(0.317,0.24)(0.325,0.31)(0.332,0.35)(0.340,0.29)(0.347,0.39)(0.355,0.29)(0.362,0.35)
(0.370,0.33)(0.377,0.40)(0.385,0.34)(0.392,0.39)(0.400,0.31)(0.407,0.42)(0.415,0.38)(0.422,0.45)
(0.430,0.43)(0.437,0.38)(0.445,0.47)(0.452,0.42)(0.460,0.47)(0.467,0.38)
(-0.490,-0.49)(-0.489,-0.45)(-0.488,-0.40)(-0.487,-0.30)(-0.486,-0.43)(-0.485,-0.47)(-0.483,-0.36)(-0.481,-0.41)
(-0.478,-0.45)(-0.476,-0.33)
(0.494,0.50)(0.493,0.45)(0.492,0.40)(0.491,0.47)(0.490,0.37)(0.489,0.43)(0.487,0.49)(0.485,0.41)(0.482,0.46)(0.480,0.44)
(-0.155,0.03)(-0.290,-0.11)(0.080,0.215)(0.070,-0.08)(-0.365,-0.43)(0.450,0.23)(0.450,0.26)
};
\addplot[dots] coordinates {
(-0.466,-0.45)(-0.451,-0.42)(-0.437,-0.43)(-0.422,-0.39)(-0.407,-0.37)(-0.392,-0.39)(-0.378,-0.34)(-0.363,-0.36)
(-0.348,-0.31)(-0.333,-0.30)(-0.319,-0.32)(-0.304,-0.27)(-0.289,-0.29)(-0.274,-0.24)(-0.260,-0.23)(-0.245,-0.25)
(-0.230,-0.20)(-0.215,-0.22)(-0.201,-0.17)(-0.186,-0.16)(-0.171,-0.18)(-0.156,-0.13)(-0.142,-0.16)(-0.127,-0.11)
(-0.112,-0.09)(-0.097,-0.11)(-0.083,-0.06)(-0.068,-0.08)(-0.053,-0.03)(-0.038,-0.02)(-0.024,-0.04)(-0.009,0.01)
(0.006,-0.01)(0.021,0.04)(0.035,0.05)(0.050,0.03)(0.065,0.08)(0.080,0.06)(0.094,0.11)(0.109,0.12)
(0.124,0.10)(0.139,0.15)(0.153,0.13)(0.168,0.18)(0.183,0.19)(0.198,0.17)(0.212,0.22)(0.227,0.20)
(0.242,0.25)(0.257,0.26)(0.271,0.24)(0.286,0.29)(0.301,0.27)(0.316,0.32)(0.330,0.33)(0.345,0.31)
(0.360,0.36)(0.375,0.34)(0.389,0.39)(0.404,0.40)(0.419,0.37)(0.434,0.43)(0.448,0.41)(0.463,0.46)
(0.475,0.43)(-0.430,-0.35)(-0.350,-0.37)(-0.270,-0.30)(-0.190,-0.21)(-0.110,-0.05)(-0.030,-0.08)(0.050,0.08)
(0.130,0.07)(0.210,0.24)(0.290,0.24)(0.370,0.39)(0.450,0.40)
};
\end{axis}

\begin{axis}[panel, at={(757pt,23.3pt)}, xmin=-0.248, xmax=0.245, ymin=-0.278, ymax=0.287,
  xtick={-0.2,0,0.2}, xticklabels={−0.2,0,0.2},
  ytick={-0.2,-0.1,0,0.1,0.2}, yticklabels={−0.2,−0.1,0,0.1,0.2}]
\addplot[dots] coordinates {
(-0.236,-0.18)(-0.232,-0.24)(-0.228,-0.14)(-0.224,-0.22)(-0.220,-0.18)(-0.216,-0.25)(-0.212,-0.15)(-0.208,-0.19)
(-0.204,-0.16)(-0.200,-0.23)(-0.196,-0.10)(-0.192,-0.20)(-0.188,-0.17)(-0.184,-0.11)(-0.180,-0.23)(-0.176,-0.14)
(-0.172,-0.17)(-0.168,-0.11)(-0.164,-0.18)(-0.160,-0.13)(-0.156,-0.11)(-0.152,-0.17)(-0.148,-0.07)(-0.144,-0.15)
(-0.140,-0.11)(-0.136,-0.18)(-0.132,-0.08)(-0.128,-0.12)(-0.124,-0.09)(-0.120,-0.16)(-0.116,-0.03)(-0.112,-0.13)
(-0.108,-0.10)(-0.104,-0.04)(-0.100,-0.16)(-0.096,-0.06)(-0.092,-0.10)(-0.088,-0.04)(-0.084,-0.11)(-0.080,-0.06)
(-0.076,-0.04)(-0.072,-0.10)(-0.068,0.00)(-0.064,-0.08)(-0.060,-0.04)(-0.056,-0.11)(-0.052,-0.01)(-0.048,-0.05)
(-0.044,-0.02)(-0.040,-0.09)(-0.036,0.04)(-0.032,-0.06)(-0.028,-0.02)(-0.024,0.03)(-0.020,-0.09)(-0.016,0.01)
(-0.012,-0.03)(-0.008,0.03)(-0.004,-0.04)(0.000,0.01)(0.004,0.03)(0.008,-0.03)(0.012,0.07)(0.016,-0.01)
(0.020,0.03)(0.024,-0.04)(0.028,0.06)(0.032,0.02)(0.036,0.05)(0.040,-0.01)(0.044,0.11)(0.048,0.01)
(0.052,0.05)(0.056,0.10)(0.060,-0.02)(0.064,0.08)(0.068,0.04)(0.072,0.10)(0.076,0.03)(0.080,0.08)
(0.084,0.10)(0.088,0.04)(0.092,0.14)(0.096,0.06)(0.100,0.10)(0.104,0.03)(0.108,0.14)(0.112,0.09)
(0.116,0.12)(0.120,0.06)(0.124,0.18)(0.128,0.08)(0.132,0.12)(0.136,0.17)(0.140,0.05)(0.144,0.15)
(0.148,0.11)(0.152,0.17)(0.156,0.10)(0.160,0.15)(0.164,0.17)(0.168,0.11)(0.172,0.21)(0.176,0.14)
(0.180,0.17)(0.184,0.10)(0.188,0.21)(0.192,0.16)(0.196,0.19)(0.200,0.13)(0.204,0.25)(0.208,0.15)
(0.212,0.19)(0.216,0.24)(0.220,0.12)(0.224,0.22)(0.228,0.18)(0.232,0.24)(0.236,0.17)
(-0.248,-0.20)(-0.247,-0.26)(-0.246,-0.17)(-0.245,-0.22)(-0.244,-0.27)(-0.243,-0.13)(-0.242,-0.19)(-0.241,-0.24)
(-0.240,-0.21)(-0.239,-0.16)
(0.245,0.20)(0.245,0.24)(0.244,0.17)(0.243,0.22)(0.243,0.27)(0.242,0.19)(0.241,0.23)(0.240,0.21)(0.239,0.25)(0.238,0.18)
(-0.210,-0.03)(0.027,0.16)(-0.055,-0.18)(0.160,0.04)(0.075,-0.07)(-0.215,-0.275)(0.235,0.285)(-0.100,0.03)
(-0.055,0.065)(-0.010,0.05)
};
\addplot[dots] coordinates {
(-0.238,-0.22)(-0.230,-0.19)(-0.222,-0.21)(-0.214,-0.16)(-0.206,-0.20)(-0.198,-0.15)(-0.190,-0.18)(-0.182,-0.14)
(-0.174,-0.19)(-0.166,-0.13)(-0.158,-0.15)(-0.150,-0.12)(-0.142,-0.14)(-0.134,-0.09)(-0.126,-0.13)(-0.118,-0.08)
(-0.110,-0.11)(-0.102,-0.07)(-0.094,-0.09)(-0.086,-0.07)(-0.078,-0.09)(-0.070,-0.05)(-0.062,-0.07)(-0.054,-0.03)
(-0.046,-0.06)(-0.038,-0.02)(-0.030,-0.04)(-0.022,-0.01)(-0.014,-0.04)(-0.006,0.00)(0.002,-0.01)(0.010,0.02)
(0.018,0.00)(0.026,0.03)(0.034,0.01)(0.042,0.05)(0.050,0.03)(0.058,0.06)(0.066,0.05)(0.074,0.07)
(0.082,0.06)(0.090,0.09)(0.098,0.08)(0.106,0.11)(0.114,0.09)(0.122,0.12)(0.130,0.10)(0.138,0.13)
(0.146,0.14)(0.154,0.12)(0.162,0.16)(0.170,0.14)(0.178,0.18)(0.186,0.15)(0.194,0.18)(0.202,0.17)
(0.210,0.20)(0.218,0.19)(0.226,0.21)(0.234,0.20)(-0.244,-0.23)(-0.200,-0.26)(-0.160,-0.09)(-0.120,-0.16)
(-0.080,-0.02)(-0.040,-0.07)(0.000,0.06)(0.040,-0.02)(0.080,0.12)(0.120,0.03)(0.160,0.21)(0.200,0.10)
(0.240,0.26)
};
\end{axis}

% ---------- dividers and labels ----------
\draw[line width=3pt] (7pt,227pt) -- (937pt,227pt);
\draw[line width=3pt] (490pt,488pt) -- (490pt,0pt);
\node[font=\hv\bfseries\fontsize{17}{19}\selectfont, anchor=base] at (278.5pt,479.3pt) {PCA+MBD};
\node[font=\hv\bfseries\fontsize{17}{19}\selectfont, anchor=base] at (729.5pt,479.3pt) {CSA+MBD};
\node[font=\hv\bfseries\fontsize{17}{19}\selectfont, rotate=90, anchor=base] at (29pt,364pt) {SNR(x\textsubscript{t})= 15dB};
\node[font=\hv\bfseries\fontsize{17}{19}\selectfont, rotate=90, anchor=base] at (29pt,114pt) {SNR(x\textsubscript{t})= 3dB};
\end{tikzpicture}
\end{document}
